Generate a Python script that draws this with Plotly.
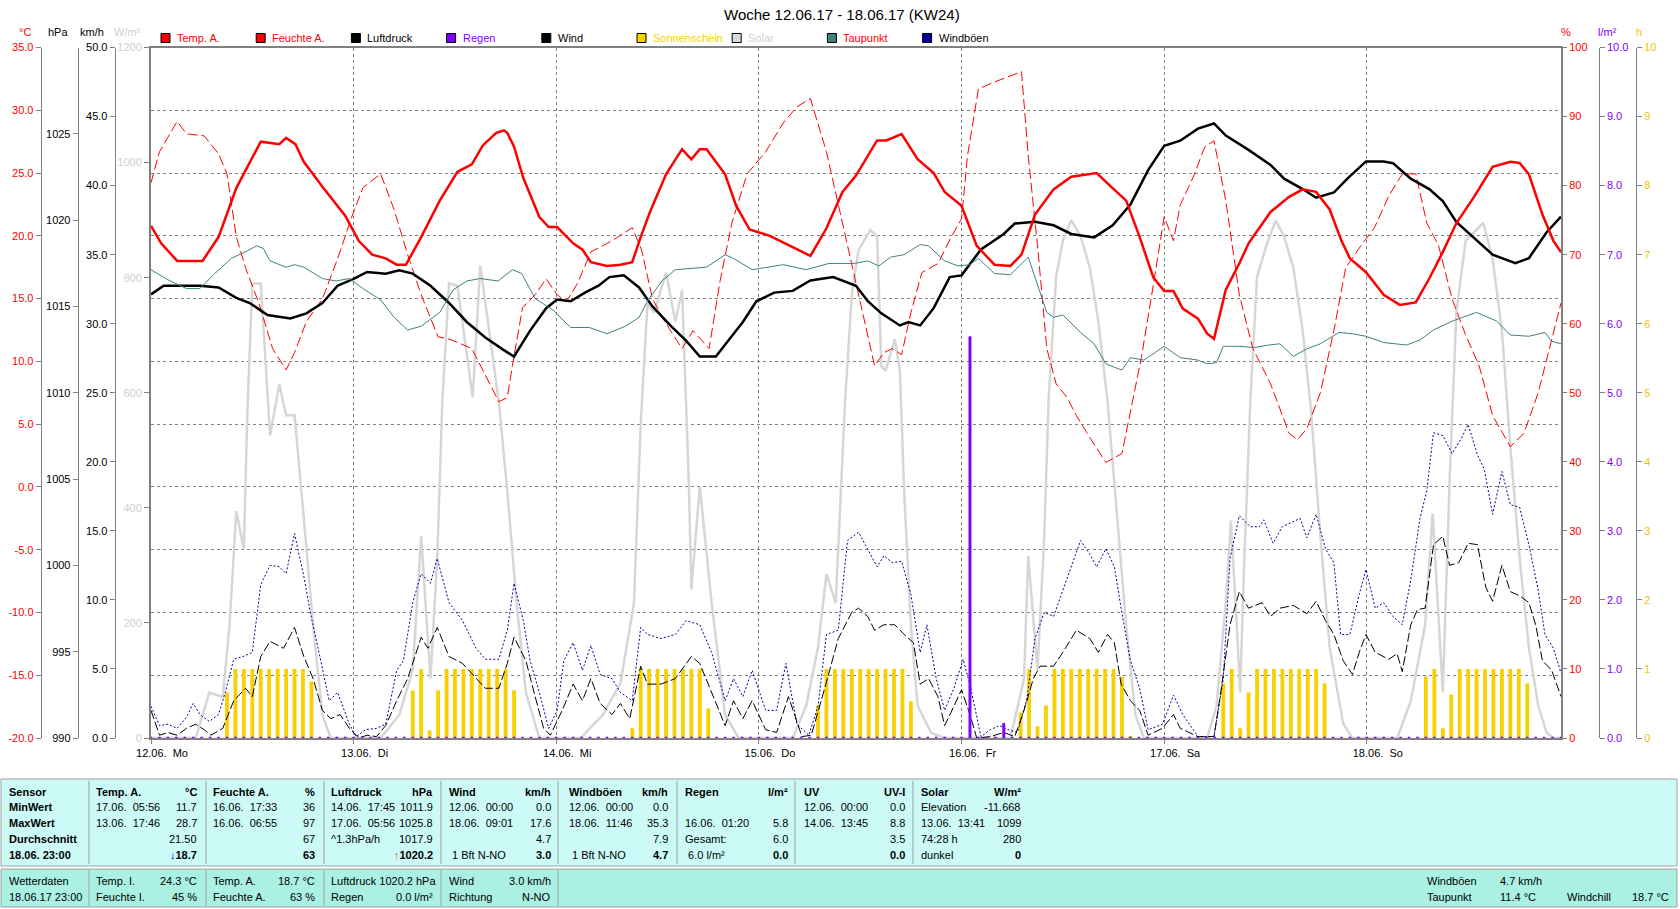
import plotly.graph_objects as go

W, H = 1680, 909
FONT = "Liberation Sans, Arial, sans-serif"
X0, X1 = 151, 1561      # plot area (px)
Y0, Y1 = 47.5, 738

# ---------------- data (hours since 12.06.17 00:00) ----------------
day_ticks = [0, 24, 48, 72, 96, 120, 144]
day_labels = ["12.06.\u00a0\u00a0Mo", "13.06.\u00a0\u00a0Di", "14.06.\u00a0\u00a0Mi", "15.06.\u00a0\u00a0Do",
              "16.06.\u00a0\u00a0Fr", "17.06.\u00a0\u00a0Sa", "18.06.\u00a0\u00a0So"]

temp_h = [0, 1.2, 3.1, 6.1, 8, 10.1, 13, 15.2, 16, 17.1,
          18.1, 20.3, 23, 24.6, 26.2, 27.8, 29.1, 30.2, 32, 34.2,
          36.3, 38, 39.3, 40.9, 41.8, 42.2, 43, 44.1, 46, 47.1,
          48.1, 50, 51.1, 52.1, 54, 55.6, 57, 58, 59.1, 61,
          62.9, 64, 65, 65.8, 68, 69.3, 70.9, 73.3, 76, 78.1,
          80, 81.9, 83.5, 86, 87.1, 88.9, 90.8, 92.7, 94, 96,
          97.8, 99.9, 101.8, 103.1, 104.7, 106.9, 109, 112, 113.9, 115.5,
          117.1, 118.7, 120, 121.1, 122.2, 124, 125.1, 125.9, 127.3, 128.9,
          130, 132.6, 134.8, 136.4, 138, 139.6, 141, 142, 143.9, 146,
          147.9, 149.8, 151.4, 153, 154.6, 156.7, 158.9, 161, 162.1, 163.2,
          164.8, 166.1, 167]
temp_v = [20.8, 19.4, 18.0, 18.0, 19.9, 23.8, 27.5, 27.3, 27.8, 27.3,
          25.9, 23.9, 21.6, 19.6, 18.5, 18.2, 17.7, 17.7, 19.9, 22.8,
          25.1, 25.7, 27.2, 28.2, 28.4, 28.2, 27.1, 24.6, 21.5, 20.7,
          20.7, 19.4, 18.9, 17.9, 17.6, 17.7, 17.9, 19.9, 21.9, 24.9,
          26.9, 26.1, 26.9, 26.9, 24.9, 22.4, 20.5, 20.0, 19.1, 18.4,
          20.6, 23.5, 24.8, 27.6, 27.6, 28.1, 26.1, 25.0, 23.5, 22.4,
          19.2, 17.7, 17.6, 18.5, 21.7, 23.7, 24.7, 25.0, 23.8, 22.8,
          19.9, 16.7, 15.6, 15.6, 14.2, 13.4, 12.2, 11.8, 15.7, 17.8,
          19.4, 21.9, 23.1, 23.7, 23.5, 22.1, 19.6, 18.2, 17.1, 15.3,
          14.5, 14.7, 16.6, 18.7, 21.0, 23.1, 25.5, 25.9, 25.8, 24.9,
          21.7, 19.6, 18.7]

hum_h = [0, 1, 3.1, 4.2, 6.3, 8, 9, 10.1, 11.2, 12.8,
         14.4, 16, 17, 18.4, 20.3, 22.1, 23.7, 25.1, 27.2, 28.8,
         30.4, 32, 34, 35.5, 38, 39.6, 41.2, 42.2, 42.8, 44,
         45.5, 46.8, 48.1, 49.2, 50.5, 52.1, 54.6, 57, 58.1, 59.4,
         61, 62.9, 64.2, 66.1, 67.4, 68.8, 70.6, 72.8, 74.9, 76.5,
         78.1, 80, 81.9, 83.8, 85.7, 86.8, 87.8, 88.9, 90, 91.3,
         93.2, 94.8, 96, 96.7, 98, 99.9, 101.8, 103.1, 103.9, 105,
         106.1, 107.2, 108.5, 109.6, 111.2, 113.1, 115, 116, 117.3, 118.7,
         120, 121.1, 121.9, 123.5, 124.8, 125.9, 127.3, 128.9, 130.5, 132.6,
         134.8, 135.8, 136.9, 138.5, 140.1, 141.5, 143.3, 144.9, 146.6, 148.2,
         149.8, 151.1, 152.5, 154.1, 155.7, 157.3, 158.9, 161, 162.6, 164.3,
         165.6, 167]
hum_v = [80.4, 84.9, 89.3, 87.5, 87.2, 84.6, 81.7, 72.6, 68.1, 62.9,
         56.4, 53.3, 55.8, 60.3, 63.6, 69.4, 75.2, 79.7, 81.7, 76.5,
         70.0, 64.2, 58.1, 57.7, 56.4, 52.6, 48.7, 49.3, 53.9, 62.3,
         64.2, 66.5, 64.2, 63.2, 65.8, 70.4, 72.0, 73.9, 70.7, 63.6,
         60.0, 56.4, 59.0, 56.4, 66.2, 74.6, 81.7, 84.9, 89.1, 91.4,
         92.6, 84.9, 74.6, 64.2, 53.9, 55.8, 56.4, 55.5, 61.6, 67.4,
         68.7, 72.6, 75.2, 84.3, 94.0, 95.0, 95.9, 96.5, 84.3, 71.3,
         56.4, 51.3, 49.3, 46.7, 43.5, 39.9, 41.2, 47.4, 55.1, 65.5,
         75.5, 72.0, 77.2, 81.4, 85.6, 86.5, 77.8, 64.2, 56.4, 51.3,
         44.1, 43.2, 44.8, 50.0, 59.0, 68.1, 71.3, 73.9, 78.5, 81.7,
         81.7, 74.6, 71.3, 63.6, 58.4, 53.9, 46.7, 42.2, 44.1, 50.0,
         56.4, 63.0]

pres_h = [0, 1.5, 5.8, 8, 10.1, 11.7, 13.8, 15.4, 16.5, 18.4,
          20.3, 22.1, 24, 25.6, 27.8, 29.4, 31, 33.1, 35.3, 37.4,
          39.6, 41.7, 43, 44.9, 46.8, 48.1, 49.7, 51.4, 53, 54.3,
          56, 57.8, 59.4, 61.5, 63.4, 65, 66.9, 68.5, 70.1, 71.7,
          73.8, 76, 78.1, 80.8, 83.5, 84.9, 86.5, 88.7, 89.7, 91.1,
          92.7, 94.6, 96, 98.3, 101, 102.3, 104.7, 106.9, 109, 111.7,
          113.9, 116, 118.1, 120, 121.9, 124, 125.9, 127.3, 129.9, 132.6,
          134.2, 136.4, 138, 140.1, 141.7, 143.9, 146, 147.1, 149.2, 151.4,
          153, 154.6, 156.7, 158.9, 161.6, 163.2, 165.3, 167]
pres_v = [1015.7, 1016.2, 1016.2, 1016.1, 1015.5, 1015.2, 1014.5, 1014.4, 1014.3, 1014.6,
          1015.2, 1016.2, 1016.6, 1017.0, 1016.9, 1017.1, 1016.9, 1016.2, 1015.2, 1014.1,
          1013.2, 1012.5, 1012.1, 1013.6, 1014.9, 1015.4, 1015.3, 1015.8, 1016.2, 1016.7,
          1016.8, 1016.1, 1015.0, 1013.9, 1013.0, 1012.1, 1012.1, 1013.1, 1014.1, 1015.3,
          1015.8, 1015.9, 1016.5, 1016.7, 1016.2, 1015.3, 1014.6, 1013.9, 1014.1, 1013.9,
          1014.9, 1016.7, 1016.8, 1018.3, 1019.2, 1019.8, 1019.9, 1019.7, 1019.2, 1019.0,
          1019.7, 1020.9, 1022.9, 1024.3, 1024.6, 1025.3, 1025.6, 1024.9, 1024.1, 1023.2,
          1022.4, 1021.8, 1021.3, 1021.6, 1022.4, 1023.4, 1023.4, 1023.3, 1022.4, 1021.8,
          1021.1, 1019.9, 1019.0, 1018.0, 1017.5, 1017.8, 1019.3, 1020.2]

dew_h = [0, 2, 4.2, 5.8, 7.4, 9.5, 11.4, 12.5, 13.3, 14.1,
         16, 17, 18.1, 20.3, 21.9, 23.5, 25.1, 27.2, 28.8, 30.4,
         32, 34.2, 35.8, 37.4, 39, 41.1, 42.8, 43.9, 45.5, 47.6,
         49.7, 51.9, 54, 56.2, 57.8, 58.8, 60.5, 62.1, 65.8, 68,
         69, 71.2, 74.9, 77.6, 80.3, 81.9, 83.3, 84.9, 86.2, 87.6,
         89.2, 91.1, 92.1, 94, 95.6, 97, 98, 99.9, 101.8, 103.9,
         104.7, 106.1, 106.9, 108, 110.1, 111.7, 113.1, 115, 116, 117.6,
         120, 121.9, 124, 125.1, 126.2, 127, 128.9, 130.7, 132.4, 133.7,
         135.3, 136.9, 138.5, 140.7, 142.3, 143.9, 146, 148.7, 150.3, 151.9,
         154.1, 157, 159.4, 161, 163.2, 165.1, 165.9, 167]
dew_v = [17.3, 16.5, 15.8, 15.8, 16.9, 18.2, 18.8, 19.2, 19.0, 18.0,
         17.5, 17.7, 17.5, 16.6, 16.4, 16.6, 15.8, 14.9, 13.5, 12.5,
         12.8, 13.9, 15.7, 16.4, 16.6, 16.4, 17.3, 17.0, 15.0, 14.1,
         12.7, 12.7, 12.2, 12.8, 13.5, 14.8, 16.4, 17.3, 17.5, 18.5,
         18.2, 17.3, 17.7, 17.3, 17.8, 17.8, 17.8, 18.0, 17.6, 18.3,
         18.5, 19.3, 19.2, 18.0, 17.6, 17.7, 18.2, 17.0, 16.9, 18.3,
         16.7, 13.9, 13.5, 13.7, 12.3, 11.4, 9.8, 9.3, 10.3, 10.1,
         11.2, 10.3, 10.1, 9.8, 9.9, 11.2, 11.2, 11.1, 11.3, 11.4,
         10.4, 11.0, 11.4, 12.3, 12.2, 12.0, 11.5, 11.3, 11.7, 12.5,
         13.2, 13.9, 13.2, 12.1, 12.0, 12.3, 11.6, 11.4]

wind_h = [0, 1, 2, 3.1, 4.2, 5.3, 6.3, 7.1, 8.5, 9.8,
          11.2, 12, 13, 14.1, 15.7, 17, 18.1, 19.2, 20.3, 21.3,
          22.4, 23.5, 24.6, 25.6, 26.7, 27.8, 29.1, 30.4, 32, 32.8,
          33.9, 35.3, 36.9, 38.5, 39.6, 41.2, 42.2, 43, 44.4, 45.5,
          46.5, 47.3, 48.7, 50, 51.1, 52.1, 53.2, 54.6, 55.6, 56.7,
          58, 58.8, 60.4, 62.1, 64, 65, 66.4, 68, 69, 70.1,
          71.2, 72.8, 74.1, 75.5, 77.1, 78.2, 79.8, 81.4, 83, 83.8,
          84.9, 85.7, 86.8, 88.1, 89.2, 90.3, 91.1, 92.1, 93.2, 94,
          95.1, 96, 97, 97.8, 99.4, 101, 102.3, 103.4, 104.5, 105.3,
          106.9, 108, 109.6, 111.2, 112.2, 113.3, 114.1, 114.9, 116, 117.1,
          118.1, 119.8, 121.1, 121.9, 124, 125.9, 126.7, 127.8, 128.9, 130,
          131.6, 132.6, 133.7, 135.3, 136.9, 138, 139.1, 140.1, 141.2, 142.3,
          143.1, 143.9, 145, 146.6, 147.6, 148.2, 149.2, 150, 150.9, 151.9,
          153, 153.8, 154.9, 156, 157.1, 158.1, 158.9, 160, 161, 162.1,
          163.2, 164, 164.8, 165.9, 167]
wind_v = [2.0, 0.2, 0.4, 0.2, 0.7, 1.0, 0.6, 0.2, 0.7, 2.7,
          3.6, 3.0, 5.9, 7.0, 6.5, 8.0, 5.9, 4.3, 2.0, 1.4,
          1.7, 0.7, 0.0, 0.2, 0.1, 0.9, 2.7, 4.3, 7.3, 6.5,
          8.0, 5.9, 5.4, 4.3, 3.6, 3.6, 5.4, 7.3, 5.6, 3.0,
          0.7, 0.2, 2.0, 3.9, 2.7, 4.3, 2.5, 1.7, 2.5, 1.4,
          5.2, 3.9, 3.9, 4.3, 5.9, 5.4, 3.3, 0.9, 2.7, 1.4,
          2.7, 0.6, 0.4, 3.0, 0.1, 0.2, 3.6, 7.2, 9.1, 9.4,
          8.8, 7.8, 8.2, 8.2, 7.5, 6.9, 3.9, 4.3, 3.0, 0.9,
          2.3, 3.5, 1.7, 0.0, 0.1, 0.4, 0.1, 2.0, 4.3, 5.2,
          5.2, 6.2, 7.8, 7.2, 6.2, 7.5, 6.9, 3.9, 2.7, 2.0,
          0.2, 0.7, 1.7, 0.7, 0.1, 0.1, 3.3, 8.2, 10.6, 9.4,
          9.8, 8.8, 9.4, 9.6, 9.0, 9.9, 8.5, 7.5, 5.6, 4.6,
          6.2, 7.5, 6.2, 5.7, 6.1, 4.8, 8.2, 9.3, 9.4, 14.0,
          14.6, 12.5, 12.7, 14.1, 14.0, 10.9, 9.9, 12.5, 10.6, 10.3,
          9.8, 8.2, 5.6, 4.9, 3.0]

gust_h = [0, 1, 2, 3.1, 4.2, 5, 5.8, 6.9, 8, 8.8,
          9.8, 10.9, 12, 13, 14.1, 15.2, 16, 17, 18.1, 18.9,
          20, 21.1, 22.1, 23.5, 24.3, 25.4, 26.7, 27.8, 29.1, 29.9,
          31, 32, 33.1, 33.9, 35.3, 36.9, 38.5, 39.6, 41.2, 42.2,
          43, 44.1, 44.9, 46, 47.1, 48.1, 48.9, 50, 51.1, 52.1,
          53.2, 54.6, 55.6, 57, 58, 58.8, 60.4, 62.1, 63.4, 65,
          66.4, 68, 69, 70.1, 71.2, 72.8, 74.1, 75.2, 76.5, 77.9,
          79, 80, 81.4, 82.5, 83.8, 84.9, 86, 86.8, 87.8, 88.9,
          90, 91.1, 91.9, 93, 94, 95.1, 96.2, 97.1, 98.3, 99.4,
          100.5, 101.5, 102.6, 103.7, 104.7, 105.8, 106.9, 108, 109, 110.1,
          111.2, 112, 113.1, 114.1, 114.9, 116, 117.1, 118.1, 119.8, 121.1,
          122.2, 124, 125.9, 127, 127.8, 128.9, 130.2, 131.3, 131.8, 132.9,
          134, 135, 136.1, 136.9, 138, 139.1, 140.1, 140.9, 142, 143.1,
          143.9, 145, 146, 147.1, 148.2, 149.2, 150.3, 151.1, 151.9, 153,
          154.1, 155.2, 156, 157.1, 157.9, 158.9, 160, 161, 162.1, 163.2,
          164.3, 165.1, 166.1, 167]
gust_v = [2.3, 0.9, 1.0, 0.7, 1.5, 2.5, 1.7, 1.2, 1.7, 3.3,
          5.7, 5.9, 6.2, 11.1, 12.5, 12.4, 11.9, 14.8, 11.7, 9.0,
          5.9, 2.7, 3.3, 1.0, 0.1, 0.6, 0.7, 1.0, 4.9, 5.6,
          9.8, 11.9, 11.2, 13.0, 9.8, 8.5, 6.5, 5.7, 5.7, 7.8,
          11.2, 8.5, 5.6, 3.3, 0.7, 2.0, 5.6, 6.9, 4.9, 6.7,
          4.6, 4.3, 3.3, 2.7, 8.0, 7.5, 7.2, 7.5, 8.5, 8.2,
          6.2, 2.7, 4.3, 3.0, 4.9, 2.0, 2.0, 5.4, 1.0, 0.2,
          2.3, 7.5, 7.8, 14.3, 14.9, 13.7, 12.4, 13.2, 12.7, 12.8,
          10.4, 6.2, 8.2, 4.3, 2.0, 3.6, 5.7, 3.6, 0.1, 0.6,
          0.9, 0.6, 0.4, 2.7, 7.2, 9.1, 8.8, 10.7, 12.4, 14.3,
          13.3, 12.4, 13.7, 12.4, 9.4, 5.6, 3.6, 0.6, 1.0, 3.1,
          1.7, 0.1, 0.1, 4.3, 13.0, 16.1, 15.3, 15.3, 15.8, 14.1,
          15.3, 15.6, 15.9, 14.5, 16.2, 13.7, 12.7, 7.5, 7.5, 10.4,
          12.2, 9.4, 9.8, 8.8, 8.2, 11.4, 15.9, 17.9, 22.1, 21.9,
          20.6, 21.7, 22.7, 20.5, 19.5, 16.2, 19.3, 16.9, 16.7, 14.0,
          10.7, 7.5, 6.5, 4.7]

sol_h = [0, 5.3, 6.9, 8.5, 9.3, 10.1, 11, 11.4, 12, 13,
         14.1, 15.2, 16, 17, 18.1, 19.2, 20.3, 21.3, 27.2, 29.4,
         31, 32, 33.1, 33.9, 34.5, 35.3, 36.3, 37.4, 38.1, 39,
         40.1, 41.2, 42.2, 43.3, 44.4, 46, 50.9, 53.5, 55.6, 57.2,
         58, 58.8, 59.6, 61, 62.1, 62.9, 63.7, 64, 65, 66.4,
         68, 69.6, 76, 77.6, 79, 80, 81.1, 82.2, 83, 83.8,
         85.2, 86, 86.5, 87, 88.1, 88.7, 89.2, 90, 90.8, 92.4,
         94, 101.8, 103.4, 103.9, 105, 105.8, 106.3, 107.2, 108, 109,
         110.1, 111.2, 112.2, 113.3, 114.4, 115.5, 116.6, 117.6, 125.1, 126.2,
         127.3, 127.9, 128.6, 129, 129.4, 130.2, 131, 132.1, 133.2, 134.2,
         135.3, 136.4, 137.4, 138.5, 139.6, 141.2, 142.3, 147.6, 149.2, 150.9,
         151.8, 152.5, 153, 153.8, 154.6, 155.7, 156.7, 157.8, 158.9, 160,
         161, 162.1, 163.2, 164.3, 165.3, 166.1, 167]
sol_v = [0, 0, 79, 71, 196, 394, 328, 561, 790, 790,
         526, 615, 561, 561, 382, 196, 40, 0, 0, 40,
         118, 351, 103, 312, 584, 790, 786, 662, 592, 821,
         700, 584, 429, 235, 79, 0, 0, 40, 95, 235,
         545, 755, 739, 809, 724, 778, 444, 258, 437, 235,
         40, 0, 0, 56, 157, 285, 235, 584, 770, 848,
         883, 872, 646, 638, 693, 638, 429, 196, 56, 9,
         0, 0, 103, 316, 118, 351, 584, 802, 864, 900,
         872, 817, 724, 584, 390, 196, 40, 0, 0, 56,
         235, 378, 196, 79, 273, 584, 802, 856, 899, 872,
         817, 708, 569, 351, 157, 25, 0, 0, 64, 196,
         390, 196, 79, 444, 739, 864, 879, 895, 833, 708,
         506, 312, 157, 56, 9, 0, 0]

sun_h = [9, 10, 11, 12, 13, 14, 15, 16, 17, 18, 19,
         31, 32, 33, 34, 35, 36, 37, 38, 39, 40, 41, 42, 43,
         57, 58, 59, 60, 61, 62, 63, 64, 65, 66,
         79, 80, 81, 82, 83, 84, 85, 86, 87, 88, 89, 90,
         103, 104, 105, 106, 107, 108, 109, 110, 111, 112, 113, 114, 115, 116,
         127, 128, 129, 130, 131, 132, 133, 134, 135, 136, 137, 138, 139,
         151, 152, 153, 154, 155, 156, 157, 158, 159, 160, 161, 162, 163]
sun_v = [0.66, 1, 1, 1, 1, 1, 1, 1, 1, 1, 0.82,
         0.69, 1, 0.11, 0.69, 1, 1, 1, 1, 1, 1, 1, 1, 0.69,
         0.14, 1, 1, 1, 1, 1, 1, 1, 1, 0.43,
         0.47, 1, 1, 1, 1, 1, 1, 1, 1, 1, 1, 0.53,
         0.37, 1, 0.17, 0.47, 1, 1, 1, 1, 1, 1, 1, 1, 0.89, 0.03,
         0.79, 1, 0.14, 0.66, 1, 1, 1, 1, 1, 1, 1, 1, 0.79,
         0.89, 1, 0.14, 0.63, 1, 1, 1, 1, 1, 1, 1, 1, 0.79]

rain_event_h = [97, 101]
rain_event_v = [5.8, 0.2]
rain_h = list(range(168))
rain_v = [0.0] * 168
for hh, vv in zip(rain_event_h, rain_event_v):
    rain_v[hh] = vv

# ---------------- colours ----------------
RED = "#FF0000"
GRAY = "#808080"
SOLAR = "#D6D6D6"
SUN = "#F8D000"
RAINC = "#8000FF"
DEW = "#408080"
GUST = "#0000A0"
GRIDDASH = "3px,3px"

fig = go.Figure()
fig.add_trace(go.Scatter(x=sol_h, y=sol_v, yaxis="y", mode="lines",
                         line=dict(color=SOLAR, width=2.5)))
fig.add_trace(go.Bar(x=sun_h, y=sun_v, yaxis="y2", width=0.45,
                     marker=dict(color=SUN, line=dict(width=0))))
fig.add_trace(go.Scatter(x=gust_h, y=gust_v, yaxis="y3", mode="lines",
                         line=dict(color=GUST, width=1, dash="2px,2px")))
fig.add_trace(go.Scatter(x=wind_h, y=wind_v, yaxis="y3", mode="lines",
                         line=dict(color="#000000", width=1, dash="9px,3px")))
fig.add_trace(go.Scatter(x=hum_h, y=hum_v, yaxis="y4", mode="lines",
                         line=dict(color=RED, width=1, dash="10px,4px")))
fig.add_trace(go.Scatter(x=pres_h, y=pres_v, yaxis="y5", mode="lines",
                         line=dict(color="#000000", width=2.5)))
fig.add_trace(go.Scatter(x=dew_h, y=dew_v, yaxis="y6", mode="lines",
                         line=dict(color=DEW, width=1)))
fig.add_trace(go.Scatter(x=temp_h, y=temp_v, yaxis="y6", mode="lines",
                         line=dict(color=RED, width=2.5)))
fig.add_trace(go.Bar(x=rain_event_h, y=rain_event_v, yaxis="y7", width=0.35,
                     marker=dict(color=RAINC, line=dict(width=0))))
fig.add_trace(go.Scatter(x=rain_h, y=rain_v, yaxis="y7", mode="markers", cliponaxis=False,
                         marker=dict(color=RAINC, size=2.5, symbol="square")))

dom_y = [1 - Y1 / H, 1 - Y0 / H]


def yax(rng, vals, texts, color, **kw):
    d = dict(domain=dom_y, range=rng, tickvals=vals, ticktext=texts,
             tickfont=dict(family=FONT, size=11, color=color),
             ticks="outside", ticklen=5, tickcolor=GRAY, showgrid=False,
             zeroline=False, showline=True, linecolor=GRAY, linewidth=1,
             automargin=False, fixedrange=True)
    d.update(kw)
    return d


c_vals = [-20, -15, -10, -5, 0, 5, 10, 15, 20, 25, 30, 35]
p_vals = [990, 995, 1000, 1005, 1010, 1015, 1020, 1025]
w_vals = [0, 5, 10, 15, 20, 25, 30, 35, 40, 45, 50]
s_vals = [0, 200, 400, 600, 800, 1000, 1200]
h_vals = [0, 10, 20, 30, 40, 50, 60, 70, 80, 90, 100]
r_vals = [0, 1, 2, 3, 4, 5, 6, 7, 8, 9, 10]

fig.update_layout(
    width=W, height=H, autosize=False,
    margin=dict(l=0, r=0, t=0, b=0, pad=0),
    paper_bgcolor="white", plot_bgcolor="white",
    showlegend=False, barmode="overlay",
    font=dict(family=FONT, size=11, color="black"),
    xaxis=dict(domain=[X0 / W, X1 / W], range=[0, 167], tickvals=day_ticks,
               ticktext=day_labels, tickfont=dict(family=FONT, size=11, color="black"),
               ticks="outside", ticklen=4, tickcolor=GRAY, ticklabelshift=11,
               showgrid=True, gridcolor=GRAY, griddash=GRIDDASH, gridwidth=1,
               showline=True, linecolor=GRAY, linewidth=2, mirror=True,
               zeroline=False, automargin=False, fixedrange=True),
    yaxis=yax([0, 1200], s_vals, [str(v) for v in s_vals], "#D0D0D0",
              anchor="x", side="left", linewidth=2, mirror=True),
    yaxis2=yax([0, 10], r_vals, [str(v) for v in r_vals], "#F2C400",
               overlaying="y", anchor="free", position=1636 / W, side="right"),
    yaxis3=yax([0, 50], w_vals, ["%.1f" % v for v in w_vals], "black",
               overlaying="y", anchor="free", position=114.7 / W, side="left"),
    yaxis4=yax([0, 100], h_vals, [str(v) for v in h_vals], RED,
               overlaying="y", anchor="x", side="right", showline=False),
    yaxis5=yax([990, 1030], p_vals, [str(v) for v in p_vals], "black",
               overlaying="y", anchor="free", position=77.7 / W, side="left"),
    yaxis6=yax([-20, 35], c_vals, ["%.1f" % v for v in c_vals], RED,
               overlaying="y", anchor="free", position=40.7 / W, side="left",
               showgrid=True, gridcolor=GRAY, griddash=GRIDDASH, gridwidth=1),
    yaxis7=yax([0, 10], r_vals, ["%.1f" % v for v in r_vals], RAINC,
               overlaying="y", anchor="free", position=1598.7 / W, side="right"),
)

# ---------------- annotations & decorations ----------------
anns = []
shapes = []


def txt(x, y, s, color="black", size=11, anchor="left", bold=False):
    anns.append(dict(x=x / W, y=1 - y / H, xref="paper", yref="paper",
                     text=("<b>%s</b>" % s) if bold else s, showarrow=False,
                     xanchor=anchor, yanchor="middle", borderpad=0,
                     font=dict(family=FONT, size=size, color=color)))


def rect(x0, y0, x1, y1, fill, line=None, lw=1):
    shapes.append(dict(type="rect", xref="paper", yref="paper",
                       x0=x0 / W, x1=x1 / W, y0=1 - y1 / H, y1=1 - y0 / H,
                       fillcolor=fill, line=dict(color=line or fill, width=lw if line else 0),
                       layer="below"))


def vline(x, y0, y1, color="#A0A0A0"):
    shapes.append(dict(type="line", xref="paper", yref="paper",
                       x0=x / W, x1=x / W, y0=1 - y1 / H, y1=1 - y0 / H,
                       line=dict(color=color, width=1), layer="above"))


# title
txt(842, 15, "Woche 12.06.17 - 18.06.17 (KW24)", size=15, anchor="center")

# axis units
for x, s, c in [(24.6, "°C", RED), (58, "hPa", "black"), (92, "km/h", "black"),
                (127.5, "W/m²", "#D0D0D0"), (1566, "%", RED), (1607, "l/m²", RAINC),
                (1639, "h", "#F2C400")]:
    txt(x, 32, s, color=c, anchor="center")

# legend
legend = [("Temp. A.", RED, RED), ("Feuchte A.", RED, RED), ("Luftdruck", "#000000", "black"),
          ("Regen", RAINC, RAINC), ("Wind", "#000000", "black"), ("Sonnenschein", SUN, SUN),
          ("Solar", "#DADADA", "#D0D0D0"), ("Taupunkt", DEW, RED), ("Windböen", "#0000A0", "black")]
for i, (name, sq, tc) in enumerate(legend):
    lx = 161 + 95.2 * i
    shapes.append(dict(type="rect", xref="paper", yref="paper",
                       x0=lx / W, x1=(lx + 9) / W, y0=1 - 42.5 / H, y1=1 - 33.5 / H,
                       fillcolor=sq, line=dict(color="black", width=1)))
    txt(lx + 15, 37.5, name, color=tc)

# ---------------- table ----------------
TOP_FILL = "#CCFBF7"
BOT_FILL = "#AAF0E3"
rect(1, 779, 1677, 866, TOP_FILL, "#A0A0A0")
rect(1, 869, 1677, 907, BOT_FILL, "#A0A0A0")
for x in [89, 206, 324, 441, 558, 677, 795, 913]:
    vline(x, 781, 864)
for x in [89, 206, 324, 441, 558]:
    vline(x, 870, 906)

row_y = [792, 807, 823, 839, 855]
sensor = ["Sensor", "MinWert", "MaxWert", "Durchschnitt", "18.06. 23:00"]
for y, s in zip(row_y, sensor):
    txt(8, y, s, bold=True)

NB = "\u00a0\u00a0"
cols = [(95, 198), (212, 316), (330, 434), (448, 552), (568, 669), (684, 789), (803, 906), (920, 1022)]
headers = [("Temp. A.", "°C"), ("Feuchte A.", "%"), ("Luftdruck", "hPa"), ("Wind", "km/h"),
           ("Windböen", "km/h"), ("Regen", "l/m²"), ("UV", "UV-I"), ("Solar", "W/m²")]
cells = [
    [("17.06." + NB + "05:56", "11.7"), ("13.06." + NB + "17:46", "28.7"), ("", "21.50"),
     ("", "<span style='color:#0000FF'>↓</span>18.7")],
    [("16.06." + NB + "17:33", "36"), ("16.06." + NB + "06:55", "97"), ("", "67"), ("", "63")],
    [("14.06." + NB + "17:45", "1011.9"), ("17.06." + NB + "05:56", "1025.8"), ("^1.3hPa/h", "1017.9"),
     ("", "<span style='color:#E06000'>↑</span>1020.2")],
    [("12.06." + NB + "00:00", "0.0"), ("18.06." + NB + "09:01", "17.6"), ("", "4.7"), ("\u00a01 Bft N-NO", "3.0")],
    [("12.06." + NB + "00:00", "0.0"), ("18.06." + NB + "11:46", "35.3"), ("", "7.9"), ("\u00a01 Bft N-NO", "4.7")],
    [("", ""), ("16.06." + NB + "01:20", "5.8"), ("Gesamt:", "6.0"), ("\u00a06.0 l/m²", "0.0")],
    [("12.06." + NB + "00:00", "0.0"), ("14.06." + NB + "13:45", "8.8"), ("", "3.5"), ("", "0.0")],
    [("Elevation", "-11.668"), ("13.06." + NB + "13:41", "1099"), ("74:28 h", "280"), ("dunkel", "0")],
]
for (lx, rx), (hl, hr), col in zip(cols, headers, cells):
    txt(lx, row_y[0], hl, bold=True)
    txt(rx, row_y[0], hr, bold=True, anchor="right")
    for k, (l, r) in enumerate(col):
        y = row_y[k + 1]
        last = (k == 3)
        if l:
            txt(lx, y, l)
        if r:
            txt(rx, y, r, bold=last, anchor="right")

bot_y = [881, 897]
txt(8, bot_y[0], "Wetterdaten")
txt(8, bot_y[1], "18.06.17 23:00")
bottom = [
    [("Temp. I.", "24.3 °C"), ("Feuchte I.", "45 %")],
    [("Temp. A.", "18.7 °C"), ("Feuchte A.", "63 %")],
    [("", ""), ("Regen", "0.0 l/m²")],
    [("Wind", "3.0 km/h"), ("Richtung", "N-NO")],
]
for (lx, rx), col in zip(cols[:4], bottom):
    for y, (l, r) in zip(bot_y, col):
        if l:
            txt(lx, y, l)
        if r:
            txt(rx, y, r, anchor="right")
txt(330, bot_y[0], "Luftdruck 1020.2 hPa")

txt(1426, bot_y[0], "Windböen")
txt(1499, bot_y[0], "4.7 km/h")
txt(1426, bot_y[1], "Taupunkt")
txt(1499, bot_y[1], "11.4 °C")
txt(1566, bot_y[1], "Windchill")
txt(1631, bot_y[1], "18.7 °C")

fig.update_layout(annotations=anns, shapes=shapes)
fig.write_html("out.html")
